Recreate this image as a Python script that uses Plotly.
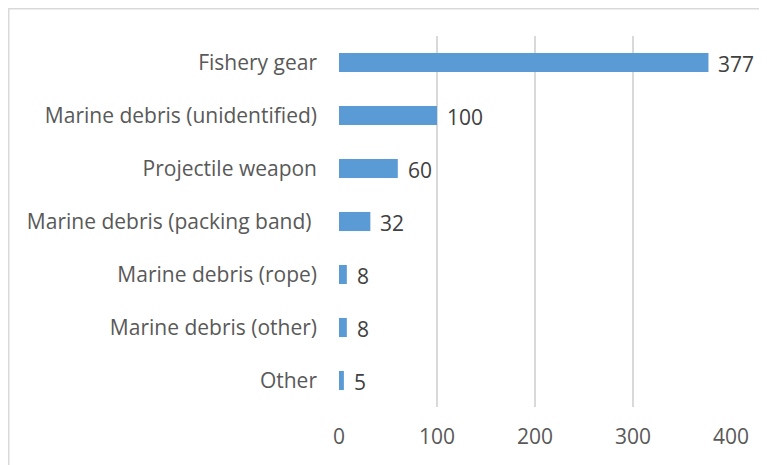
import plotly.graph_objects as go

categories = ["Fishery gear", "Marine debris (unidentified)", "Projectile weapon",
              "Marine debris (packing band)\u00a0", "Marine debris (rope)",
              "Marine debris (other)", "Other"]
values = [377, 100, 60, 32, 8, 8, 5]
x_ticks = [0, 100, 200, 300, 400]

# page body has an 8px margin, so the figure is offset by 8px
W, H = 759, 457
ml, mt = 331, 28
pw, ph = 392, 371
mr = W - ml - pw
mb = H - mt - ph

fig = go.Figure(go.Bar(
    x=values, y=categories, orientation="h",
    marker=dict(color="#5b9bd5", line=dict(width=0)),
    cliponaxis=False,
))

# data labels
for c, v in zip(categories, values):
    fig.add_annotation(x=v, y=c, text=str(v), showarrow=False,
                       xanchor="left", yanchor="middle", xshift=8, yshift=-1,
                       font=dict(size=21, color="#404040", family="Open Sans"))

# chart border (left and top edges visible)
xl = (0.75 - ml) / pw
yt = 1 + (mt - 0.75) / ph
fig.add_shape(type="path", xref="paper", yref="paper",
              path=f"M {xl} -0.3 L {xl} {yt} L 1.3 {yt}",
              line=dict(color="#d9d9d9", width=1.5))

fig.update_layout(
    width=W, height=H,
    margin=dict(l=ml, r=mr, t=mt, b=mb, autoexpand=False),
    paper_bgcolor="white", plot_bgcolor="white",
    bargap=0.64, showlegend=False,
    font=dict(family="Open Sans", size=21, color="#595959"),
    xaxis=dict(range=[0, 400], tickvals=x_ticks, showgrid=True,
               gridcolor="#d9d9d9", gridwidth=1.5, zeroline=False,
               showline=False, ticks="", ticklabelstandoff=15,
               automargin=False,
               tickfont=dict(size=21, color="#595959")),
    yaxis=dict(categoryorder="array", categoryarray=categories,
               autorange="reversed", showgrid=False, showline=False,
               ticks="", ticklabelstandoff=21, automargin=False,
               tickfont=dict(size=21, color="#595959")),
)
fig.write_html("out.html")
